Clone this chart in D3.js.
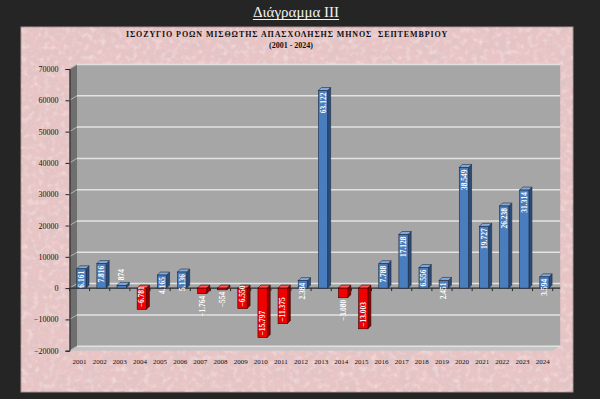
<!DOCTYPE html>
<html>
<head>
<meta charset="utf-8">
<script src="https://cdn.jsdelivr.net/npm/d3@7"></script>
<style>
  html, body { margin: 0; padding: 0; background: #252525; }
  #canvas { width: 600px; height: 399px; }
</style>
</head>
<body>
<div id="canvas"></div>
<script>
const years = ["2001","2002","2003","2004","2005","2006","2007","2008","2009","2010","2011","2012",
               "2013","2014","2015","2016","2017","2018","2019","2020","2021","2022","2023","2024"];
const balance = [6161, 7816, 874, -6781, 4165, 5136, -1764, -554, -6550, -15797, -11375, 2384,
                 63122, -3080, -13003, 7788, 17128, 6556, 2451, 38549, 19727, 26238, 31314, 3594];
const yTicks = [-20000, -10000, 0, 10000, 20000, 30000, 40000, 50000, 60000, 70000];

const pageTitle = "Διάγραμμα ΙΙΙ";
const chartTitle = "ΙΣΟΖΥΓΙΟ ΡΟΩΝ ΜΙΣΘΩΤΗΣ ΑΠΑΣΧΟΛΗΣΗΣ ΜΗΝΟΣ  ΣΕΠΤΕΜΒΡΙΟΥ";
const chartSub = "(2001 - 2024)";

const w = 600;
const h = 399;
const panel = { x: 21, y: 27, w: 552, h: 365 };
const plot = { left: 69.5, right: 552.7, top: 69, bottom: 350.7 };
const depth = { dx: 7.5, dy: 4.5 };   // 3d offset of the walls
const bd = 3;                          // 3d offset of the bars
const serif = "'Liberation Serif', 'Times New Roman', serif";

function render(){

  let svg = d3.select("#canvas")
                .append("svg")
                .attr("width", w)
                .attr("height", h);

  // marble texture for the pink panel
  let defs = svg.append("defs");
  let filt = defs.append("filter")
                 .attr("id", "marble")
                 .attr("x", 0).attr("y", 0).attr("width", 1).attr("height", 1);
  filt.append("feTurbulence")
      .attr("type", "fractalNoise")
      .attr("baseFrequency", "0.07 0.1")
      .attr("numOctaves", 4)
      .attr("seed", 7);
  filt.append("feColorMatrix")
      .attr("type", "matrix")
      .attr("values", "0 0 0 0 0.66  0 0 0 0 0.55  0 0 0 0 0.56  1.4 0 0 0 -0.55");
  filt.append("feComposite").attr("in2", "SourceGraphic").attr("operator", "in");

  let spots = defs.append("filter")
                  .attr("id", "spots")
                  .attr("x", 0).attr("y", 0).attr("width", 1).attr("height", 1);
  spots.append("feTurbulence")
       .attr("type", "fractalNoise")
       .attr("baseFrequency", "0.18")
       .attr("numOctaves", 2)
       .attr("seed", 3);
  spots.append("feColorMatrix")
       .attr("type", "matrix")
       .attr("values", "0 0 0 0 1  0 0 0 0 0.95  0 0 0 0 0.95  0 1.8 0 0 -0.85");
  spots.append("feComposite").attr("in2", "SourceGraphic").attr("operator", "in");

  // page title
  let tt = svg.append("text")
     .attr("x", 296)
     .attr("y", 17)
     .attr("text-anchor", "middle")
     .style("font-family", serif)
     .style("font-size", "15px")
     .style("fill", "#f2f2f2")
     .text(pageTitle);
  let tw = tt.node().getComputedTextLength();
  svg.append("line")
     .attr("x1", 296 - tw/2).attr("x2", 296 + tw/2)
     .attr("y1", 19.5).attr("y2", 19.5)
     .style("stroke", "#f2f2f2")
     .style("stroke-width", 1);

  // panel
  svg.append("rect")
     .attr("x", panel.x).attr("y", panel.y)
     .attr("width", panel.w).attr("height", panel.h)
     .style("fill", "#e8c4c5")
     .style("stroke", "#a89494")
     .style("stroke-width", 1);
  svg.append("rect")
     .attr("x", panel.x).attr("y", panel.y)
     .attr("width", panel.w).attr("height", panel.h)
     .style("fill", "#e8c4c5")
     .attr("filter", "url(#marble)")
     .style("opacity", 0.55);
  svg.append("rect")
     .attr("x", panel.x).attr("y", panel.y)
     .attr("width", panel.w).attr("height", panel.h)
     .style("fill", "#e8c4c5")
     .attr("filter", "url(#spots)")
     .style("opacity", 0.55);

  svg.append("text")
     .attr("x", 287).attr("y", 37)
     .attr("text-anchor", "middle")
     .style("font-family", serif)
     .style("font-size", "8px")
     .style("font-weight", "bold")
     .style("letter-spacing", "0.9px")
     .style("white-space", "pre")
     .style("fill", "#111")
     .text(chartTitle);
  svg.append("text")
     .attr("x", 291).attr("y", 48)
     .attr("text-anchor", "middle")
     .style("font-family", serif)
     .style("font-size", "8px")
     .style("font-weight", "bold")
     .style("fill", "#111")
     .text(chartSub);

  let x = d3.scaleBand()
            .domain(years)
            .range([plot.left, plot.right]);

  let y = d3.scaleLinear()
            .domain([d3.min(yTicks), d3.max(yTicks)])
            .range([plot.bottom, plot.top]);

  let chart = svg.append("g").classed("display", true);

  // walls
  let wx0 = plot.left, wx1 = plot.left + depth.dx, rx = plot.right + depth.dx;
  chart.append("polygon")
       .attr("points", [[wx0, plot.top], [wx1, plot.top - depth.dy], [wx1, plot.bottom - depth.dy], [wx0, plot.bottom]].join(" "))
       .style("fill", "#6f6f6f");
  chart.append("rect")
       .attr("x", wx1).attr("y", plot.top - depth.dy)
       .attr("width", rx - wx1).attr("height", plot.bottom - plot.top)
       .style("fill", "#a6a6a6");
  chart.append("polygon")
       .attr("points", [[wx0, plot.bottom], [wx1, plot.bottom - depth.dy], [rx, plot.bottom - depth.dy], [plot.right, plot.bottom]].join(" "))
       .style("fill", "#c4c4c4");

  // gridlines
  let grid = chart.append("g").classed("grid", true);
  grid.selectAll("line.back")
      .data(yTicks)
      .enter()
        .append("line")
        .attr("x1", wx1).attr("x2", rx)
        .attr("y1", d => y(d) - depth.dy)
        .attr("y2", d => y(d) - depth.dy)
        .style("stroke", "#e2e2e2")
        .style("stroke-width", 1.5);
  grid.selectAll("line.side")
      .data(yTicks)
      .enter()
        .append("line")
        .attr("x1", wx0).attr("x2", wx1)
        .attr("y1", d => y(d))
        .attr("y2", d => y(d) - depth.dy)
        .style("stroke", "#b5b5b5")
        .style("stroke-width", 1);

  // y axis
  let yAxis = d3.axisLeft(y)
                .tickValues(yTicks)
                .tickFormat(d3.format("d"))
                .tickSize(4)
                .tickPadding(7);
  let ya = chart.append("g")
                .attr("transform", "translate(" + plot.left + ",0)")
                .call(yAxis);
  ya.select(".domain").style("stroke", "#222");
  ya.selectAll(".tick line").style("stroke", "#222");
  ya.selectAll("text")
    .style("font-family", serif)
    .style("font-size", "8px")
    .style("fill", "#111");

  // x axis at zero
  chart.append("line")
       .attr("x1", plot.left).attr("x2", rx)
       .attr("y1", y(0)).attr("y2", y(0))
       .style("stroke", "#2a2a2a")
       .style("stroke-width", 1.2);
  chart.selectAll("line.xtick")
       .data(years.concat(["end"]))
       .enter()
         .append("line")
         .attr("x1", (d, i) => plot.left + i * x.step())
         .attr("x2", (d, i) => plot.left + i * x.step())
         .attr("y1", y(0))
         .attr("y2", y(0) + 3)
         .style("stroke", "#2a2a2a");

  // category labels under the floor
  chart.selectAll("text.year")
       .data(years)
       .enter()
         .append("text")
         .attr("x", d => x(d) + x.bandwidth()/2)
         .attr("y", 364)
         .attr("text-anchor", "middle")
         .style("font-family", serif)
         .style("font-size", "7px")
         .style("fill", "#111")
         .text(d => d);

  // bars
  let bw = x.bandwidth() * 0.46;
  let bars = chart.append("g")
                  .selectAll("g.bar")
                  .data(balance)
                  .enter()
                    .append("g")
                    .classed("bar", true);

  function geom(d, i){
    let bx = x(years[i]) + x.bandwidth() * 0.36;
    let yA = y(Math.max(d, 0));
    let yB = y(Math.min(d, 0));
    return { bx: bx, yA: yA, yB: yB };
  }
  const pal = {
    pos: { front: "#4a7dbd", side: "#2b4c78", top: "#86a9d8", line: "#1a2a44" },
    neg: { front: "#f00000", side: "#8e0000", top: "#ff5a5a", line: "#3a0000" }
  };

  bars.append("polygon")
      .attr("points", (d, i) => {
        let g = geom(d, i);
        return [[g.bx + bw, g.yA], [g.bx + bw + bd, g.yA - bd], [g.bx + bw + bd, g.yB - bd], [g.bx + bw, g.yB]].join(" ");
      })
      .style("fill", d => d < 0 ? pal.neg.side : pal.pos.side)
      .style("stroke", d => d < 0 ? pal.neg.line : pal.pos.line)
      .style("stroke-width", 0.6);
  bars.append("polygon")
      .attr("points", (d, i) => {
        let g = geom(d, i);
        return [[g.bx, g.yA], [g.bx + bd, g.yA - bd], [g.bx + bw + bd, g.yA - bd], [g.bx + bw, g.yA]].join(" ");
      })
      .style("fill", d => d < 0 ? pal.neg.top : pal.pos.top)
      .style("stroke", d => d < 0 ? pal.neg.line : pal.pos.line)
      .style("stroke-width", 0.6);
  bars.append("rect")
      .attr("x", (d, i) => geom(d, i).bx)
      .attr("y", (d, i) => geom(d, i).yA)
      .attr("width", bw)
      .attr("height", (d, i) => geom(d, i).yB - geom(d, i).yA)
      .style("fill", d => d < 0 ? pal.neg.front : pal.pos.front)
      .style("stroke", d => d < 0 ? pal.neg.line : pal.pos.line)
      .style("stroke-width", 0.6);

  // value labels, greek number format
  let gr = d3.formatLocale({ decimal: ",", thousands: ".", grouping: [3], currency: ["", " €"] });
  let fmt = gr.format(",d");

  bars.append("text")
      .style("font-family", serif)
      .style("font-size", "7.5px")
      .style("font-weight", "bold")
      .style("fill", "#fff")
      .attr("dy", "0.35em")
      .text(d => fmt(d))
      .each(function(d, i){
        let g = geom(d, i);
        let len = this.getComputedTextLength();
        let cx = g.bx + bw/2;
        let barLen = g.yB - g.yA;
        let ty, anchor;
        if (d >= 0) {
          // inside end unless the bar is almost flat
          if (barLen > 5) { ty = g.yA + 2; anchor = "end"; }
          else { ty = g.yA - bd - 2; anchor = "start"; }
        } else {
          if (len <= barLen + 1) { ty = g.yB - 2; anchor = "start"; }
          else { ty = g.yB + 2; anchor = "end"; }
        }
        d3.select(this)
          .attr("text-anchor", anchor)
          .attr("transform", "translate(" + cx + "," + ty + ") rotate(-90)");
      });
}

render();
</script>
</body>
</html>
